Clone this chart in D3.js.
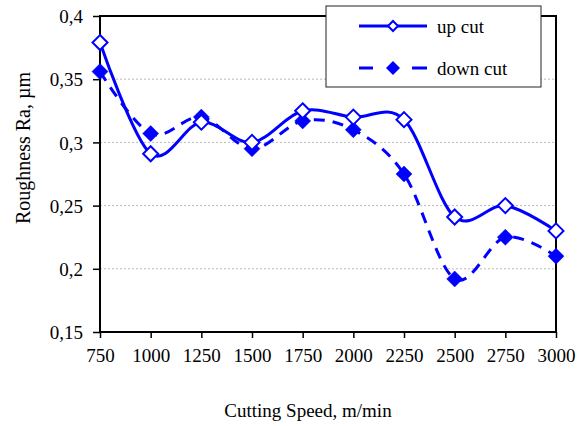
<!DOCTYPE html>
<html><head><meta charset="utf-8">
<script src="https://cdn.jsdelivr.net/npm/d3@7"></script>
<style>body{margin:0;background:#fff}svg{display:block}</style>
</head><body>
<svg id="c" width="587" height="426"></svg>
<script>
const speeds = [750,1000,1250,1500,1750,2000,2250,2500,2750,3000];
const upCut = [0.379,0.291,0.316,0.300,0.325,0.320,0.318,0.241,0.250,0.230];
const downCut = [0.356,0.307,0.320,0.295,0.317,0.310,0.275,0.192,0.225,0.210];
const yTicks = [0.15,0.2,0.25,0.3,0.35,0.4];
const seriesNames = ["up cut","down cut"];

const FONT = "'Times New Roman','Liberation Serif','DejaVu Serif',serif";
const svg = d3.select("#c");
const L=100,R=556,T=16,B=332;
const x = d3.scaleLinear().domain([750,3000]).range([L,R]);
const y = d3.scaleLinear().domain([0.15,0.4]).range([B,T]);
const fmt = d => String(d).replace(".",",");

// gridlines
svg.append("g").selectAll("line").data(yTicks.filter(v=>v>0.15&&v<0.4)).join("line")
  .attr("x1",L).attr("x2",R).attr("y1",d=>y(d)).attr("y2",d=>y(d))
  .attr("stroke","#bbb").attr("stroke-width",1).attr("stroke-dasharray","2,2");

// axes
const xa = svg.append("g").attr("transform",`translate(0,${B})`)
  .call(d3.axisBottom(x).tickValues(speeds).tickSize(6).tickSizeOuter(0).tickFormat(d=>d));
const ya = svg.append("g").attr("transform",`translate(${L},0)`)
  .call(d3.axisLeft(y).tickValues(yTicks).tickSize(7).tickSizeOuter(0).tickFormat(fmt));
[xa,ya].forEach(a=>{a.attr("font-family",null).attr("font-size",null);
  a.select(".domain").remove();a.selectAll("line").attr("stroke","#000").attr("stroke-width",1.5);
  a.selectAll("text").attr("style",`font-family:${FONT};font-size:19px`).attr("fill","#000");});
xa.selectAll("text").attr("y",null).attr("dy",null).attr("y",30);
ya.selectAll("text").attr("x",-17).attr("dy","0.35em");

// frame
svg.append("rect").attr("x",L).attr("y",T).attr("width",R-L).attr("height",B-T)
  .attr("fill","none").attr("stroke","#000").attr("stroke-width",2);

const line = d3.line().x((d,i)=>x(speeds[i])).y(d=>y(d)).curve(d3.curveCardinal.tension(0));
const blue="#0000ff";
svg.append("path").attr("d",line(downCut)).attr("fill","none").attr("stroke",blue).attr("stroke-width",3)
  .attr("stroke-dasharray","11,8");
svg.append("path").attr("d",line(upCut)).attr("fill","none").attr("stroke",blue).attr("stroke-width",3);

const diamond = s => `M0,${-s}L${s},0L0,${s}L${-s},0Z`;
svg.append("g").selectAll("path").data(downCut).join("path")
  .attr("transform",(d,i)=>`translate(${x(speeds[i])},${y(d)})`).attr("d",diamond(8))
  .attr("fill",blue).attr("stroke",blue).attr("stroke-width",0.5);
svg.append("g").selectAll("path").data(upCut).join("path")
  .attr("transform",(d,i)=>`translate(${x(speeds[i])},${y(d)})`).attr("d",diamond(7.5))
  .attr("fill","#fff").attr("stroke",blue).attr("stroke-width",2);

// legend
const lg = svg.append("g");
lg.append("rect").attr("x",326).attr("y",6).attr("width",215).attr("height",81)
  .attr("fill","#fff").attr("stroke","#222").attr("stroke-width",1);
lg.append("line").attr("x1",359).attr("x2",427).attr("y1",26).attr("y2",26).attr("stroke",blue).attr("stroke-width",3);
lg.append("path").attr("transform","translate(393,26)").attr("d",diamond(5)).attr("fill","#fff").attr("stroke",blue).attr("stroke-width",2);
lg.append("line").attr("x1",359).attr("x2",427).attr("y1",68).attr("y2",68).attr("stroke",blue).attr("stroke-width",3).attr("stroke-dasharray","14,39,15");
lg.append("path").attr("transform","translate(393,68)").attr("d",diamond(7)).attr("fill",blue);
lg.append("text").attr("x",437).attr("y",26).attr("dy","0.35em").attr("style",`font-family:${FONT};font-size:19px`).text(seriesNames[0]);
lg.append("text").attr("x",437).attr("y",68).attr("dy","0.35em").attr("style",`font-family:${FONT};font-size:19px`).text(seriesNames[1]);

// axis titles
svg.append("text").attr("x",308).attr("y",417).attr("text-anchor","middle").attr("style",`font-family:${FONT};font-size:19px`).text("Cutting Speed, m/min");
svg.append("text").attr("transform","translate(30,148) rotate(-90)").attr("text-anchor","middle").attr("style",`font-family:${FONT};font-size:20px`).text("Roughness Ra, µm");
</script>
</body></html>
